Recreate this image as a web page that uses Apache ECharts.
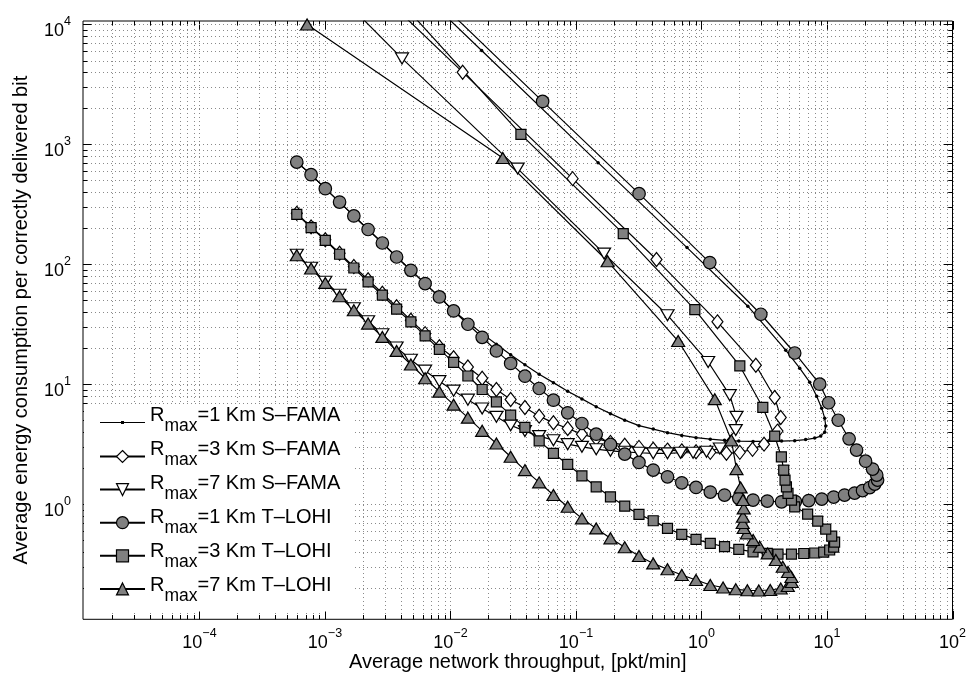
<!DOCTYPE html>
<html>
<head>
<meta charset="utf-8">
<script src="https://cdn.jsdelivr.net/npm/echarts@6/dist/echarts.min.js"></script>
<style>
  html, body { margin: 0; padding: 0; background: #fff; }
  #chart { width: 968px; height: 675px; }
</style>
</head>
<body>
<div id="chart"></div>
<script>
// Energy per correctly delivered bit versus network throughput (log-log),
// S-FAMA and T-LOHI for three maximum ranges. Each curve is traced in
// order of increasing offered load: the lower branch rises to the
// maximum throughput, then folds back along the steep upper branch.

const sfama1 = [
  [5.96e-4, 712], [7.75e-4, 559], [1.006e-3, 427], [1.307e-3, 330], [1.698e-3, 253],
  [2.206e-3, 195], [2.865e-3, 150.5], [3.721e-3, 115], [4.834e-3, 89.1], [6.279e-3, 69.0],
  [8.156e-3, 53.4], [0.01059, 40.8], [0.01376, 32.9], [0.01788, 26.4], [0.02322, 21.5],
  [0.03016, 17.6], [0.03918, 14.5], [0.05089, 12.1], [0.06611, 10.3], [0.08588, 8.74],
  [0.1115, 7.54], [0.1449, 6.49], [0.1882, 5.68], [0.2445, 5.01], [0.3176, 4.51],
  [0.4125, 4.22], [0.5359, 3.94], [0.6961, 3.74], [0.9044, 3.58], [1.175, 3.48],
  [1.526, 3.40], [1.982, 3.35], [2.575, 3.33], [3.345, 3.33], [4.345, 3.35],
  [5.53, 3.38], [6.76, 3.45], [7.98, 3.55], [8.91, 3.69], [9.59, 3.98], [9.77, 4.47],
  [9.59, 5.21], [9.07, 6.31], [8.28, 7.94], [7.28, 10.4], [6.06, 13.6], [4.69, 19.2],
  [2.34, 44.7], [0.767, 137.8], [0.150, 704], [0.0177, 6070], [2.29e-3, 47300]
];

const sfama3 = [
  [5.96e-4, 266], [7.75e-4, 205], [1.006e-3, 160], [1.307e-3, 123.5], [1.698e-3, 95.7],
  [2.206e-3, 74.3], [2.865e-3, 57.3], [3.721e-3, 44.2], [4.834e-3, 34.2], [6.279e-3, 26.4],
  [8.156e-3, 20.5], [0.01059, 16.6], [0.01376, 13.9], [0.01788, 11.2], [0.02322, 9.03],
  [0.03016, 7.46], [0.03918, 6.39], [0.05089, 5.41], [0.06611, 4.76], [0.08588, 4.27],
  [0.1115, 3.83], [0.1449, 3.53], [0.1882, 3.27], [0.2445, 3.10], [0.3176, 2.97],
  [0.4125, 2.87], [0.5359, 2.82], [0.6961, 2.78], [0.9044, 2.73], [1.175, 2.70],
  [1.58, 2.65], [2.02, 2.70], [2.55, 2.86], [3.15, 3.16], [4.03, 4.06], [4.28, 5.28],
  [3.83, 7.75], [2.71, 14.4], [1.34, 33.1], [0.438, 109.5], [0.094, 518],
  [0.0125, 4000], [1.70e-3, 29500]
];

const sfama7 = [
  [5.96e-4, 120], [7.75e-4, 93.5], [1.006e-3, 71.5], [1.307e-3, 55.7], [1.698e-3, 43.0],
  [2.206e-3, 33.5], [2.865e-3, 26.1], [3.721e-3, 20.2], [4.834e-3, 16.0], [6.279e-3, 12.96],
  [8.156e-3, 10.6], [0.01059, 8.83], [0.01376, 7.43], [0.01788, 6.27], [0.02322, 5.34],
  [0.03016, 4.55], [0.03918, 4.06], [0.05089, 3.69], [0.06611, 3.41], [0.08588, 3.16],
  [0.1115, 3.00], [0.1449, 2.87], [0.1882, 2.78], [0.2445, 2.73], [0.3176, 2.68],
  [0.4125, 2.65], [0.5359, 2.65], [0.68, 2.68], [0.857, 2.68], [1.096, 2.73],
  [1.40, 2.91], [1.875, 4.14], [1.90, 5.34], [1.68, 8.10], [1.13, 15.3], [0.536, 37.6],
  [0.1675, 122.8], [0.0343, 628], [4.11e-3, 5210], [5.27e-4, 45500]
];

const tlohi1 = [
  [5.96e-4, 712], [7.75e-4, 559], [1.006e-3, 427], [1.307e-3, 330], [1.698e-3, 253],
  [2.206e-3, 195], [2.865e-3, 150.5], [3.721e-3, 115], [4.834e-3, 89.1], [6.279e-3, 69.0],
  [8.156e-3, 53.4], [0.01059, 40.8], [0.01376, 31.6], [0.01788, 24.6], [0.02322, 18.95],
  [0.03016, 14.9], [0.03918, 11.66], [0.05089, 9.2], [0.06611, 7.36], [0.08588, 5.77],
  [0.1115, 4.70], [0.1449, 3.83], [0.1882, 3.145], [0.2445, 2.61], [0.3176, 2.226],
  [0.4125, 1.92], [0.5359, 1.689], [0.6961, 1.505], [0.9044, 1.377], [1.175, 1.259],
  [1.526, 1.189], [1.982, 1.116], [2.575, 1.08], [3.345, 1.059], [4.345, 1.045],
  [5.60, 1.049], [7.15, 1.069], [9.08, 1.10], [11.3, 1.144], [13.8, 1.189], [16.6, 1.235],
  [19.2, 1.296], [21.9, 1.372], [24.0, 1.468], [25.3, 1.585], [24.9, 1.745], [23.1, 1.957],
  [20.3, 2.28], [17.2, 2.82], [15.0, 3.5], [12.3, 5.0], [10.3, 7.0], [8.75, 10.0],
  [5.53, 18.2], [2.97, 38.3], [1.164, 103.3], [0.318, 388], [0.0542, 2281], [6.87e-3, 18300]
];

const tlohi3 = [
  [5.96e-4, 261], [7.75e-4, 202], [1.006e-3, 158.5], [1.307e-3, 121.2], [1.698e-3, 93.1],
  [2.206e-3, 71.2], [2.865e-3, 55.2], [3.721e-3, 42.2], [4.834e-3, 33.1], [6.279e-3, 25.3],
  [8.156e-3, 19.5], [0.01059, 15.2], [0.01376, 11.7], [0.01788, 9.03], [0.02322, 7.12],
  [0.03016, 5.52], [0.03918, 4.36], [0.05089, 3.37], [0.06611, 2.65], [0.08588, 2.14],
  [0.1115, 1.72], [0.1449, 1.394], [0.1882, 1.150], [0.2445, 0.962], [0.3176, 0.821],
  [0.4125, 0.726], [0.5359, 0.627], [0.6961, 0.559], [0.9044, 0.508], [1.175, 0.470],
  [1.526, 0.441], [1.982, 0.419], [2.575, 0.400], [3.345, 0.388], [4.07, 0.383],
  [5.21, 0.383], [6.53, 0.387], [7.98, 0.391], [9.41, 0.398], [10.5, 0.414], [11.3, 0.438],
  [11.5, 0.482], [10.9, 0.541], [9.77, 0.619], [8.43, 0.722], [7.01, 0.825], [5.53, 0.949],
  [5.21, 1.08], [4.89, 1.228], [4.75, 1.394], [4.63, 1.585], [4.52, 1.92], [4.33, 2.48],
  [3.83, 3.69], [3.08, 6.40], [2.02, 14.2], [0.885, 41.9], [0.238, 180], [0.0364, 1211],
  [3.61e-3, 17400]
];

const tlohi7 = [
  [5.96e-4, 118.9], [7.75e-4, 92.1], [1.006e-3, 69.9], [1.307e-3, 54.1], [1.698e-3, 41.4],
  [2.206e-3, 32.0], [2.865e-3, 24.8], [3.721e-3, 18.95], [4.834e-3, 14.6], [6.279e-3, 11.2],
  [8.156e-3, 8.66], [0.01059, 6.75], [0.01376, 5.26], [0.01788, 4.08], [0.02322, 3.20],
  [0.03016, 2.48], [0.03918, 1.92], [0.05089, 1.517], [0.06611, 1.189], [0.08588, 0.950],
  [0.1115, 0.760], [0.1449, 0.627], [0.1882, 0.518], [0.2445, 0.436], [0.3176, 0.369],
  [0.4125, 0.320], [0.5359, 0.286], [0.6961, 0.256], [0.9044, 0.2326], [1.175, 0.2113],
  [1.486, 0.2014], [1.875, 0.1946], [2.32, 0.1910], [2.86, 0.1902], [3.53, 0.1920],
  [4.28, 0.1976], [4.87, 0.2074], [5.24, 0.2239], [5.21, 0.2464], [4.89, 0.2712],
  [4.44, 0.3003], [3.91, 0.3415], [3.37, 0.388], [2.91, 0.441], [2.58, 0.501], [2.30, 0.570],
  [2.17, 0.631], [2.13, 0.695], [2.14, 0.784], [2.17, 0.921], [2.14, 1.08], [2.05, 1.378],
  [1.90, 1.957], [1.73, 3.40], [1.276, 7.50], [0.652, 22.9], [0.1786, 105.9], [0.0261, 769],
  [7.2e-4, 10000]
];

const seriesNames = [
  'R_max=1 Km S–FAMA', 'R_max=3 Km S–FAMA', 'R_max=7 Km S–FAMA',
  'R_max=1 Km T–LOHI', 'R_max=3 Km T–LOHI', 'R_max=7 Km T–LOHI'
];

// Grid / tick positions (decades plus 2..9 subdivisions)
const xMajor = [1e-4, 1e-3, 1e-2, 1e-1, 1, 10, 100];
const xMinor = [
  2e-5, 3e-5, 4e-5, 5e-5, 6e-5, 7e-5, 8e-5, 9e-5,
  2e-4, 3e-4, 4e-4, 5e-4, 6e-4, 7e-4, 8e-4, 9e-4,
  2e-3, 3e-3, 4e-3, 5e-3, 6e-3, 7e-3, 8e-3, 9e-3,
  0.02, 0.03, 0.04, 0.05, 0.06, 0.07, 0.08, 0.09,
  0.2, 0.3, 0.4, 0.5, 0.6, 0.7, 0.8, 0.9,
  2, 3, 4, 5, 6, 7, 8, 9,
  20, 30, 40, 50, 60, 70, 80, 90
];
const yMajor = [1, 10, 100, 1000, 10000];
const yMinor = [
  0.2, 0.3, 0.4, 0.5, 0.6, 0.7, 0.8, 0.9,
  2, 3, 4, 5, 6, 7, 8, 9,
  20, 30, 40, 50, 60, 70, 80, 90,
  200, 300, 400, 500, 600, 700, 800, 900,
  2000, 3000, 4000, 5000, 6000, 7000, 8000, 9000
];

const FONT = '"Liberation Sans", Arial, Helvetica, sans-serif';
const GREY = '#808080';

const guideItems = [];
xMajor.forEach(v => guideItems.push([v, 1, 1]));
xMinor.forEach(v => guideItems.push([v, 1, 0]));
yMajor.forEach(v => guideItems.push([1, v, 3]));
yMinor.forEach(v => guideItems.push([1, v, 2]));

function renderGuide(params, api) {
  const cs = params.coordSys;
  const kind = api.value(2);
  const p = api.coord([api.value(0), api.value(1)]);
  const len = (kind % 2) ? 8.5 : 4.3;
  const dotted = { stroke: '#8a8a8a', lineWidth: 1, lineDash: [1, 3] };
  const solid = { stroke: '#000', lineWidth: 1 };
  const left = cs.x, right = cs.x + cs.width, top = cs.y, bottom = cs.y + cs.height;
  if (kind < 2) {
    const x = Math.round(p[0]) + 0.5;
    return { type: 'group', children: [
      { type: 'line', shape: { x1: x, y1: top, x2: x, y2: bottom }, style: dotted },
      { type: 'line', shape: { x1: x, y1: bottom, x2: x, y2: bottom - len }, style: solid },
      { type: 'line', shape: { x1: x, y1: top, x2: x, y2: top + len }, style: solid }
    ] };
  }
  const y = Math.round(p[1]) + 0.5;
  return { type: 'group', children: [
    { type: 'line', shape: { x1: left, y1: y, x2: right, y2: y }, style: dotted },
    { type: 'line', shape: { x1: left, y1: y, x2: left + len, y2: y }, style: solid },
    { type: 'line', shape: { x1: right, y1: y, x2: right - len, y2: y }, style: solid }
  ] };
}

function powerLabel(v) {
  const e = Math.log10(v);
  const r = Math.round(e);
  if (Math.abs(e - r) > 1e-6) return '';
  const exp = r < 0 ? '\u2212' + (-r) : String(r);
  return '{b|10}{e|' + exp + '}';
}

const labelRich = {
  b: { fontSize: 18, lineHeight: 18, padding: [7, 0, 7, 0], verticalAlign: 'top', fontFamily: FONT, color: '#000' },
  e: { fontSize: 12.5, lineHeight: 14, verticalAlign: 'top', fontFamily: FONT, color: '#000' }
};

function lineSeries(name, data, symbol, size, fill, extra) {
  return Object.assign({
    name: name,
    type: 'line',
    data: data,
    symbol: symbol,
    symbolSize: size,
    showSymbol: true,
    showAllSymbol: true,
    clip: true,
    lineStyle: { color: '#000', width: 1.2 },
    itemStyle: { color: fill, borderColor: '#000', borderWidth: 1.2 },
    emphasis: { disabled: true },
    animation: false,
    z: 3
  }, extra || {});
}

// Legend texts: "R" with subscript "max", followed by the rest of the name
const LEG_X = 150, LEG_Y0 = 422.7, LEG_DY = 34;
const measureCtx = document.createElement('canvas').getContext('2d');
function textWidth(t, size) {
  measureCtx.font = size + 'px ' + FONT;
  return measureCtx.measureText(t).width;
}
const legendTexts = [];
seriesNames.forEach((n, i) => {
  const cy = LEG_Y0 + i * LEG_DY;
  const wR = textWidth('R', 20);
  const wS = textWidth('max', 17.5);
  const base = { fill: '#000', fontFamily: FONT, verticalAlign: 'middle', align: 'left' };
  legendTexts.push(
    { type: 'text', x: LEG_X, y: cy - 7.7, z: 100, silent: true,
      style: Object.assign({ text: 'R', fontSize: 20 }, base) },
    { type: 'text', x: LEG_X + wR, y: cy + 3.3, z: 100, silent: true,
      style: Object.assign({ text: 'max', fontSize: 17.5 }, base) },
    { type: 'text', x: LEG_X + wR + wS, y: cy - 7.7, z: 100, silent: true,
      style: Object.assign({ text: n.slice(5), fontSize: 20 }, base) }
  );
});

const chart = echarts.init(document.getElementById('chart'), null, { renderer: 'canvas' });

chart.setOption({
  backgroundColor: '#fff',
  animation: false,
  grid: {
    left: 83, right: 15.5, top: 21, bottom: 55.7,
    show: true, borderColor: '#000', borderWidth: 1, backgroundColor: 'transparent',
    outerBoundsMode: 'none'
  },
  xAxis: {
    type: 'log', logBase: 10, min: 1.18e-5, max: 100,
    axisLine: { show: false }, axisTick: { show: false }, splitLine: { show: false },
    axisLabel: { formatter: powerLabel, rich: labelRich, margin: 7.5, showMinLabel: true, showMaxLabel: true },
    name: 'Average network throughput, [pkt/min]',
    nameLocation: 'middle', nameGap: 33, nameMoveOverlap: false,
    nameTextStyle: { fontSize: 20, color: '#000', fontFamily: FONT }
  },
  yAxis: {
    type: 'log', logBase: 10, min: 0.1094, max: 10690,
    axisLine: { show: false }, axisTick: { show: false }, splitLine: { show: false },
    axisLabel: { formatter: powerLabel, rich: labelRich, margin: 12 },
    name: 'Average energy consumption per correctly delivered bit',
    nameLocation: 'middle', nameGap: 52, nameRotate: 90, nameMoveOverlap: false,
    nameTextStyle: { fontSize: 20, color: '#000', fontFamily: FONT }
  },
  legend: {
    orient: 'vertical', left: 84, top: 404,
    padding: [11, 209, 16, 15],
    backgroundColor: '#fff', borderWidth: 0,
    itemWidth: 45, itemHeight: 15, itemGap: 19,
    selectedMode: false,
    formatter: () => '',
    data: [
      { name: seriesNames[0], icon: 'path://M0,0 M45,15 M0,6.9 L45,6.9 L45,8.1 L0,8.1 Z M21,5.9 L24,5.9 L24,9.1 L21,9.1 Z',
        itemStyle: { color: '#000', borderWidth: 0 } },
      { name: seriesNames[1], itemStyle: { color: '#fff', borderColor: '#000', borderWidth: 1.2 } },
      { name: seriesNames[2], itemStyle: { color: '#fff', borderColor: '#000', borderWidth: 1.2 } },
      { name: seriesNames[3], itemStyle: { color: GREY, borderColor: '#000', borderWidth: 1.2 } },
      { name: seriesNames[4], itemStyle: { color: GREY, borderColor: '#000', borderWidth: 1.2 } },
      { name: seriesNames[5], itemStyle: { color: GREY, borderColor: '#000', borderWidth: 1.2 } }
    ]
  },
  graphic: legendTexts,
  series: [
    {
      type: 'custom', name: 'guides', data: guideItems, renderItem: renderGuide,
      silent: true, z: 1, animation: false
    },
    lineSeries(seriesNames[0], sfama1, 'circle', 3.5, '#000', { itemStyle: { color: '#000', borderWidth: 0 } }),
    lineSeries(seriesNames[1], sfama3, 'diamond', [11, 14], '#fff'),
    lineSeries(seriesNames[2], sfama7, 'triangle', [13, 11], '#fff', { symbolRotate: 180 }),
    lineSeries(seriesNames[3], tlohi1, 'circle', 12.5, GREY),
    lineSeries(seriesNames[4], tlohi3, 'rect', 10, GREY),
    lineSeries(seriesNames[5], tlohi7, 'triangle', [13, 11], GREY)
  ]
});
</script>
</body>
</html>
